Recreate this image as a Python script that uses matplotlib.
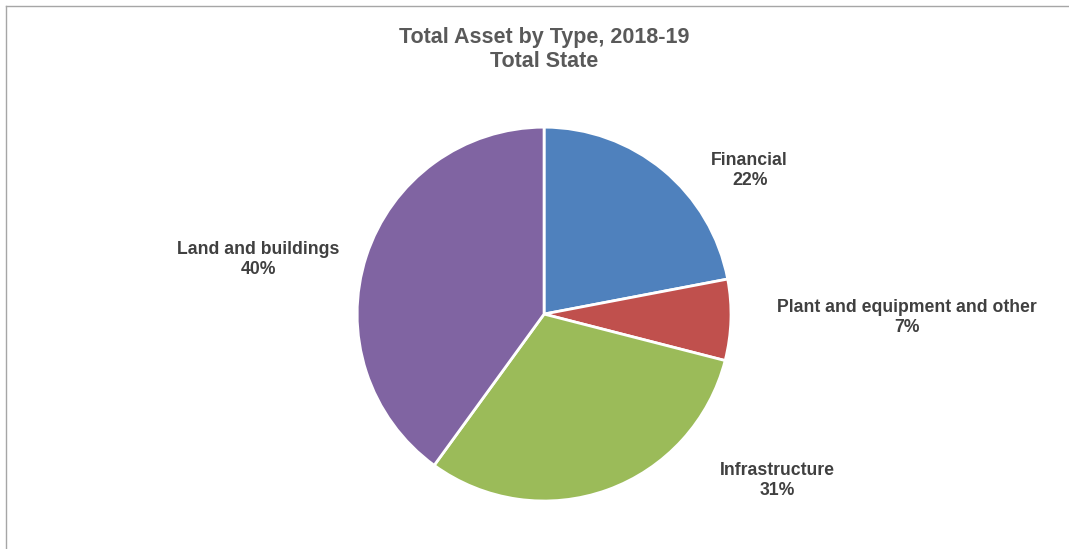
import matplotlib.pyplot as plt
from matplotlib.lines import Line2D

plt.rcParams['font.family'] = ['Liberation Sans', 'DejaVu Sans']

categories = ["Financial", "Plant and equipment and other", "Infrastructure", "Land and buildings"]
shares = [22, 7, 31, 40]
colors = ["#4F81BD", "#C0504D", "#9BBB59", "#8064A2"]
# where each data label sits, in pie-radius units
label_pos = [(1.10, 0.77), (1.94, -0.02), (1.25, -0.89), (-1.53, 0.29)]

fig = plt.figure(figsize=(10.69, 5.49), dpi=100)
ax = fig.add_axes([0.334, 0.0874, 0.3499, 0.681])

ax.pie(shares, colors=colors, startangle=90, counterclock=False,
       wedgeprops=dict(edgecolor="white", linewidth=2))
ax.set_xlim(-1, 1)
ax.set_ylim(-1, 1)
ax.set_aspect("equal")
ax.axis("off")

for name, val, (lx, ly) in zip(categories, shares, label_pos):
    ax.text(lx, ly, f"{name}\n{val}%", ha="center", va="center", fontsize=12.7,
            fontweight="bold", color="#404040", linespacing=1.25, clip_on=False)

fig.text(0.509, 0.910, "Total Asset by Type, 2018-19\nTotal State", ha="center", va="center",
         fontsize=15.5, fontweight="bold", color="#595959", linespacing=1.2)

# chart area border (top and left edges)
fig.add_artist(Line2D([6 / 1069, 1], [1 - 6 / 549, 1 - 6 / 549], color="#A6A6A6", lw=1,
                      transform=fig.transFigure))
fig.add_artist(Line2D([6 / 1069, 6 / 1069], [0, 1 - 6 / 549], color="#A6A6A6", lw=1,
                      transform=fig.transFigure))

fig.savefig("out.png", dpi=100)
